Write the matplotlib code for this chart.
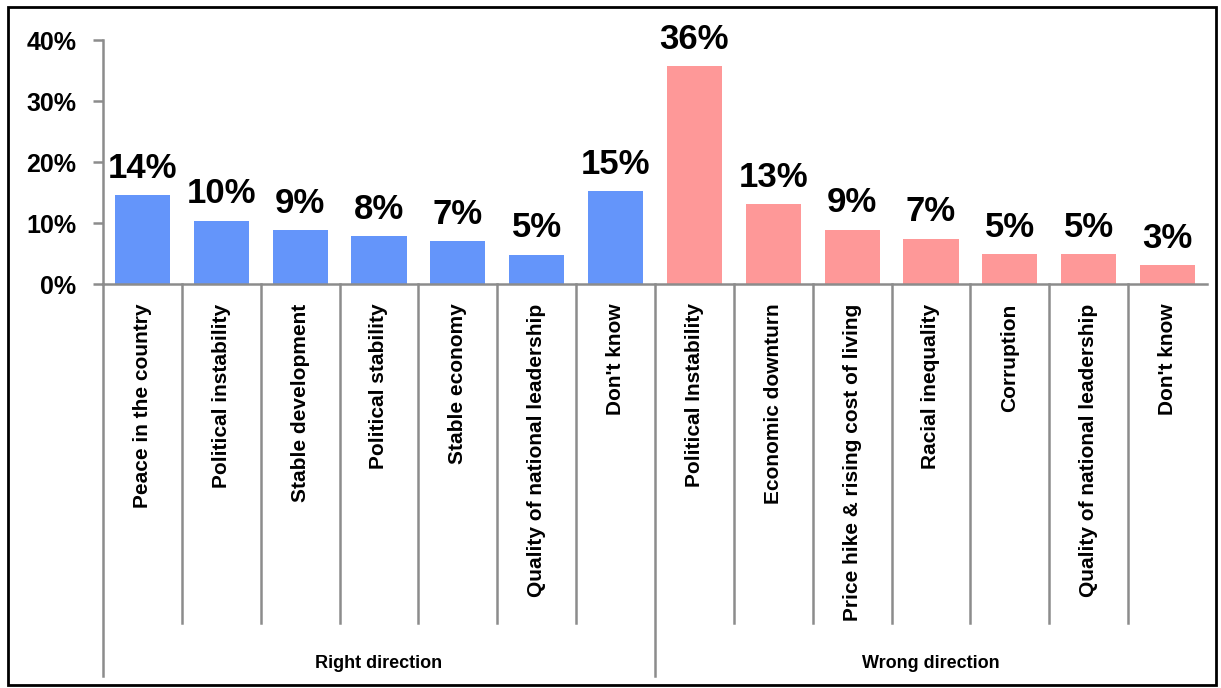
import matplotlib
matplotlib.use("Agg")
import matplotlib.pyplot as plt
from matplotlib import font_manager
from matplotlib.patches import Rectangle

# ---- data ----
right_categories = ["Peace in the country", "Political instability", "Stable development",
                    "Political stability", "Stable economy", "Quality of national leadership",
                    "Don't know"]
right_values = [14.6, 10.4, 8.8, 7.8, 7.0, 4.8, 15.2]
right_labels = ["14%", "10%", "9%", "8%", "7%", "5%", "15%"]

wrong_categories = ["Political Instability", "Economic downturn", "Price hike & rising cost of living",
                    "Racial inequality", "Corruption", "Quality of national leadership",
                    "Don't know"]
wrong_values = [35.7, 13.1, 8.9, 7.4, 4.9, 4.9, 3.1]
wrong_labels = ["36%", "13%", "9%", "7%", "5%", "5%", "3%"]

groups = ["Right direction", "Wrong direction"]
yticks = [0, 10, 20, 30, 40]
ytick_labels = ["0%", "10%", "20%", "30%", "40%"]

# ---- fonts ----
names = {f.name for f in font_manager.fontManager.ttflist}
fam = "Liberation Sans Narrow" if "Liberation Sans Narrow" in names else "Liberation Sans"
plt.rcParams["font.family"] = [fam, "DejaVu Sans"]
plt.rcParams["font.weight"] = "bold"

W, H = 1221, 688
fig = plt.figure(figsize=(W / 100, H / 100), dpi=100)
ax_left, ax_right, ax_top, ax_bot = 103, 1207, 40, 284
ax = fig.add_axes([ax_left / W, 1 - ax_bot / H, (ax_right - ax_left) / W, (ax_bot - ax_top) / H])

blue = "#6495FA"
pink = "#FE9898"
grey = "#8C8C8C"

cats = right_categories + wrong_categories
vals = right_values + wrong_values
labs = right_labels + wrong_labels
colors = [blue] * len(right_values) + [pink] * len(wrong_values)
x = list(range(len(cats)))

ax.bar(x, vals, width=0.7, color=colors, zorder=2)
for xi, v, lab in zip(x, vals, labs):
    ax.annotate(lab, (xi, v), xytext=(0, 12.5), textcoords="offset points",
                ha="center", va="baseline", fontsize=25, fontweight="bold",
                annotation_clip=False)

ax.set_xlim(-0.5, len(cats) - 0.5)
ax.set_ylim(0, 40)
ax.set_yticks(yticks)
ax.set_yticklabels(ytick_labels, fontsize=18, fontweight="bold")
ax.tick_params(axis="y", length=7, width=1.8, color=grey, pad=12)
ax.set_xticks(x)
ax.set_xticklabels(cats, rotation=90, fontsize=15, fontweight="bold", va="top", ha="center")
ax.tick_params(axis="x", length=0, pad=14)

for s in ["top", "right"]:
    ax.spines[s].set_visible(False)
for s in ["left", "bottom"]:
    ax.spines[s].set_color(grey)
    ax.spines[s].set_linewidth(1.8)

tr = ax.get_xaxis_transform()
axh = ax_bot - ax_top
short_end = -(623 - ax_bot) / axh
long_end = -(676 - ax_bot) / axh
n_r = len(right_categories)
for b in range(1, len(cats)):
    xb = b - 0.5
    end = long_end if b == n_r else short_end
    ax.plot([xb, xb], [0, end], transform=tr, color=grey, lw=1.8, clip_on=False)
ax.plot([-0.5, -0.5], [0, long_end], transform=tr, color=grey, lw=1.8, clip_on=False)

group_y = -(663 - ax_bot) / axh
group_centers = [(n_r - 1) / 2, n_r + (len(wrong_categories) - 1) / 2]
for g, c in zip(groups, group_centers):
    ax.text(c, group_y, g, transform=tr, ha="center", va="center", fontsize=13, fontweight="bold")

# outer border
fig.patches.append(Rectangle((8 / W, 1 - 685 / H), (1216 - 8) / W, (685 - 7) / H,
                             transform=fig.transFigure, fill=False, edgecolor="black", lw=2))

fig.savefig("out.png", dpi=100)
